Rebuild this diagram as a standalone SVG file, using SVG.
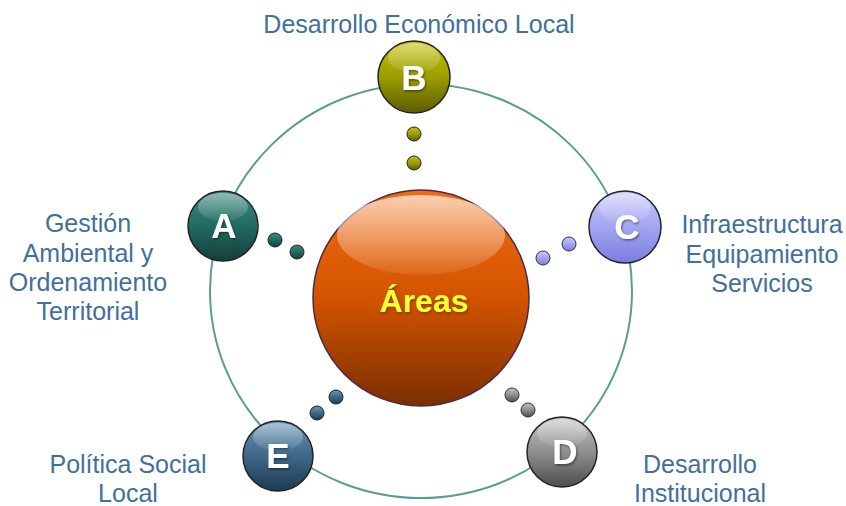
<svg xmlns="http://www.w3.org/2000/svg" width="846" height="506" viewBox="0 0 846 506">
<style>
.lbl{font-family:"Liberation Sans",Arial,sans-serif;font-size:25px;fill:#41709c;text-anchor:middle}
.let{font-family:"Liberation Sans",Arial,sans-serif;font-size:35px;font-weight:bold;fill:#ffffff;text-anchor:middle}
.ring{fill:none;stroke:#5a9d95;stroke-width:2}
.edge{stroke:#222;stroke-width:1.5}
</style>
<defs>
<linearGradient id="gO" x1="0" y1="0" x2="0" y2="1"><stop offset="0" stop-color="#f26a10"/><stop offset="0.5" stop-color="#d35400"/><stop offset="1" stop-color="#7a2e00"/></linearGradient>
<linearGradient id="gB" x1="0" y1="0" x2="0" y2="1"><stop offset="0" stop-color="#c2c20a"/><stop offset="0.5" stop-color="#9c9c00"/><stop offset="1" stop-color="#5c5c00"/></linearGradient>
<linearGradient id="gA" x1="0" y1="0" x2="0" y2="1"><stop offset="0" stop-color="#3a8a80"/><stop offset="0.5" stop-color="#236a62"/><stop offset="1" stop-color="#123f39"/></linearGradient>
<linearGradient id="gC" x1="0" y1="0" x2="0" y2="1"><stop offset="0" stop-color="#c8c9fb"/><stop offset="0.5" stop-color="#a3a5f2"/><stop offset="1" stop-color="#7a7dde"/></linearGradient>
<linearGradient id="gD" x1="0" y1="0" x2="0" y2="1"><stop offset="0" stop-color="#c4c4c4"/><stop offset="0.5" stop-color="#8e8e8e"/><stop offset="1" stop-color="#4e4e4e"/></linearGradient>
<linearGradient id="gE" x1="0" y1="0" x2="0" y2="1"><stop offset="0" stop-color="#6a95b5"/><stop offset="0.5" stop-color="#3f6888"/><stop offset="1" stop-color="#1d3a52"/></linearGradient>
<linearGradient id="gl" x1="0" y1="0" x2="0" y2="1"><stop offset="0" stop-color="#fff" stop-opacity="0.85"/><stop offset="1" stop-color="#fff" stop-opacity="0.1"/></linearGradient>
<filter id="sh" x="-20%" y="-20%" width="140%" height="140%"><feDropShadow dx="1" dy="1.5" stdDeviation="1" flood-color="#000" flood-opacity="0.45"/></filter>
<filter id="gw" x="-20%" y="-30%" width="140%" height="160%"><feDropShadow dx="1" dy="1.5" stdDeviation="1.5" flood-color="#6a3000" flood-opacity="0.8"/></filter>
</defs>
<rect width="846" height="506" fill="#ffffff"/>
<g id="connectors">
<ellipse class="ring" cx="421" cy="291" rx="211" ry="207"/>
<circle cx="414" cy="134" r="7" fill="url(#gB)" stroke="#222" stroke-width="1"/>
<circle cx="414" cy="163" r="7" fill="url(#gB)" stroke="#222" stroke-width="1"/>
<circle cx="275" cy="240" r="7" fill="url(#gA)" stroke="#222" stroke-width="1"/>
<circle cx="297" cy="252" r="7" fill="url(#gA)" stroke="#222" stroke-width="1"/>
<circle cx="569" cy="244" r="7" fill="url(#gC)" stroke="#333" stroke-width="1"/>
<circle cx="543" cy="258" r="7" fill="url(#gC)" stroke="#333" stroke-width="1"/>
<circle cx="512" cy="395" r="7" fill="url(#gD)" stroke="#333" stroke-width="1"/>
<circle cx="528" cy="410" r="7" fill="url(#gD)" stroke="#333" stroke-width="1"/>
<circle cx="336" cy="397" r="7" fill="url(#gE)" stroke="#222" stroke-width="1"/>
<circle cx="317" cy="413" r="7" fill="url(#gE)" stroke="#222" stroke-width="1"/>
</g>
<g id="center">
<circle cx="421" cy="298" r="108" fill="url(#gO)" stroke="#4a2a4a" stroke-width="1.5"/>
<ellipse cx="421" cy="235" rx="84" ry="40" fill="url(#gl)" opacity="0.8"/>
<text x="424" y="312" font-family="'Liberation Sans',Arial,sans-serif" font-size="32" font-weight="bold" fill="#ffff33" text-anchor="middle" filter="url(#gw)">Áreas</text>
</g>
<g id="nodeB">
<circle cx="414" cy="77" r="36" fill="url(#gB)" class="edge"/>
<ellipse cx="414" cy="58" rx="26" ry="15" fill="url(#gl)" opacity="0.5"/>
<text class="let" x="414" y="90" filter="url(#sh)">B</text>
<text class="lbl" x="419" y="33">Desarrollo Económico Local</text>
</g>
<g id="nodeA">
<circle cx="223" cy="226" r="35" fill="url(#gA)" class="edge"/>
<ellipse cx="223" cy="207" rx="25" ry="14" fill="url(#gl)" opacity="0.5"/>
<text class="let" x="224" y="238" filter="url(#sh)">A</text>
<text class="lbl" x="88" y="232">Gestión</text>
<text class="lbl" x="88" y="262">Ambiental y</text>
<text class="lbl" x="88" y="291">Ordenamiento</text>
<text class="lbl" x="88" y="320">Territorial</text>
</g>
<g id="nodeC">
<circle cx="625" cy="227" r="36" fill="url(#gC)" class="edge"/>
<ellipse cx="625" cy="208" rx="26" ry="15" fill="url(#gl)" opacity="0.5"/>
<text class="let" x="627" y="239" filter="url(#sh)">C</text>
<text class="lbl" x="762" y="233">Infraestructura</text>
<text class="lbl" x="762" y="263">Equipamiento</text>
<text class="lbl" x="762" y="292">Servicios</text>
</g>
<g id="nodeD">
<circle cx="562" cy="452" r="35" fill="url(#gD)" class="edge"/>
<ellipse cx="562" cy="433" rx="25" ry="14" fill="url(#gl)" opacity="0.5"/>
<text class="let" x="565" y="464" filter="url(#sh)">D</text>
<text class="lbl" x="700" y="473">Desarrollo</text>
<text class="lbl" x="700" y="502">Institucional</text>
</g>
<g id="nodeE">
<circle cx="278" cy="456" r="35" fill="url(#gE)" class="edge"/>
<ellipse cx="278" cy="437" rx="25" ry="14" fill="url(#gl)" opacity="0.5"/>
<text class="let" x="278" y="468" filter="url(#sh)">E</text>
<text class="lbl" x="128" y="473">Política Social</text>
<text class="lbl" x="128" y="502">Local</text>
</g>
</svg>
